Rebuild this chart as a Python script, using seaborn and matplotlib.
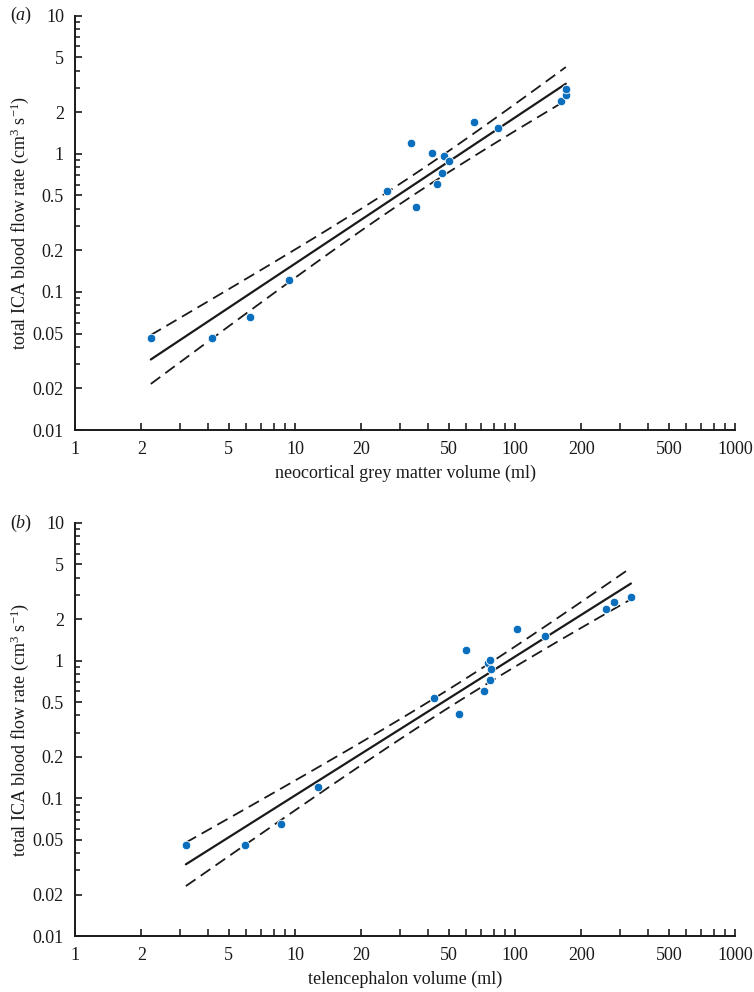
import numpy as np
import pandas as pd
import matplotlib
matplotlib.use('Agg')
import matplotlib.pyplot as plt
from matplotlib.ticker import LogLocator, FixedLocator, FixedFormatter, NullFormatter
import seaborn as sns

# panel (a): neocortical grey matter volume (ml) vs total ICA blood flow rate (cm3/s)
grey_volume = [2.21, 4.21, 6.26, 9.39, 26.1, 33.7, 35.5, 41.8, 44.1, 46.4, 47.4, 50.1,
               65.3, 83.4, 161.4, 170.0, 170.0]
grey_flow = [0.0467, 0.0467, 0.0659, 0.1228, 0.539, 1.20, 0.415, 1.02, 0.606, 0.732,
             0.962, 0.885, 1.70, 1.54, 2.41, 2.69, 2.96]

# panel (b): telencephalon volume (ml) vs total ICA blood flow rate
tel_volume = [3.19, 5.91, 8.61, 12.7, 42.7, 55.8, 59.9, 72.5, 75.4, 76.7, 77.6, 77.2,
              102.0, 137.4, 260.0, 282.0, 336.0]
tel_flow = [0.0456, 0.0456, 0.0648, 0.121, 0.533, 0.411, 1.19, 0.600, 0.956, 1.017,
            0.871, 0.725, 1.69, 1.52, 2.38, 2.68, 2.91]

x_labels = ['neocortical grey matter volume (ml)', 'telencephalon volume (ml)']
y_label = r'total ICA blood flow rate (cm$^3$ s$^{-1}$)'
panel_tags = ['a', 'b']
x_ticks = [1, 2, 5, 10, 20, 50, 100, 200, 500, 1000]
y_ticks = [0.01, 0.02, 0.05, 0.1, 0.2, 0.5, 1, 2, 5, 10]

T_CRIT = 2.131  # t(0.975, df=15)
dot_color = '#0b6fbd'


def fit_lines(x, y):
    # OLS on log10-log10 scale with 95% confidence band of the mean
    lx, ly = np.log10(x), np.log10(y)
    slope, icpt = np.polyfit(lx, ly, 1)
    n = len(lx)
    resid = ly - (icpt + slope * lx)
    s = np.sqrt(np.sum(resid ** 2) / (n - 2))
    sxx = np.sum((lx - lx.mean()) ** 2)
    grid = np.linspace(lx.min(), lx.max(), 100)
    pred = icpt + slope * grid
    half = T_CRIT * s * np.sqrt(1 / n + (grid - lx.mean()) ** 2 / sxx)
    return pd.DataFrame({'x': 10 ** grid, 'fit': 10 ** pred,
                         'lo': 10 ** (pred - half), 'hi': 10 ** (pred + half)})


sns.set_style('ticks')
plt.rcParams['font.family'] = ['Liberation Serif', 'DejaVu Serif']
plt.rcParams['mathtext.fontset'] = 'custom'
plt.rcParams['mathtext.rm'] = 'Liberation Serif'
plt.rcParams['mathtext.it'] = 'Liberation Serif:italic'

fig = plt.figure(figsize=(7.54, 9.92), dpi=100)
ax_a = fig.add_axes([0.0995, 0.5665, 0.8755, 0.4175])
ax_b = fig.add_axes([0.0995, 0.0564, 0.8755, 0.4164])

datasets = [(grey_volume, grey_flow), (tel_volume, tel_flow)]
for ax, (xv, yv), xl, tag in zip([ax_a, ax_b], datasets, x_labels, panel_tags):
    xv, yv = np.array(xv), np.array(yv)
    lines = fit_lines(xv, yv)
    sns.lineplot(data=lines, x='x', y='fit', ax=ax, color='#1a1a1a', lw=1.6)
    sns.lineplot(data=lines, x='x', y='hi', ax=ax, color='#1a1a1a', lw=1.3,
                 linestyle=(0, (6.5, 3.5)))
    sns.lineplot(data=lines, x='x', y='lo', ax=ax, color='#1a1a1a', lw=1.3,
                 linestyle=(0, (6.5, 3.5)))
    sns.scatterplot(x=xv, y=yv, ax=ax, color=dot_color, s=38, edgecolor='white',
                    linewidth=0.6, zorder=3)

    ax.set_xscale('log')
    ax.set_yscale('log')
    ax.set_xlim(1, 1000)
    ax.set_ylim(0.01, 10)
    ax.xaxis.set_major_locator(FixedLocator(x_ticks))
    ax.xaxis.set_major_formatter(FixedFormatter([str(t) for t in x_ticks]))
    ax.xaxis.set_minor_locator(LogLocator(base=10, subs=[3, 4, 6, 7, 8, 9]))
    ax.xaxis.set_minor_formatter(NullFormatter())
    ax.yaxis.set_major_locator(FixedLocator(y_ticks))
    ax.yaxis.set_major_formatter(FixedFormatter(['0.01', '0.02', '0.05', '0.1', '0.2',
                                                 '0.5', '1', '2', '5', '10']))
    ax.yaxis.set_minor_locator(LogLocator(base=10, subs=[3, 4, 6, 7, 8, 9]))
    ax.yaxis.set_minor_formatter(NullFormatter())
    ax.tick_params(which='major', direction='in', length=5, width=1.2,
                   labelsize=13, pad=8, colors='#1a1a1a')
    ax.tick_params(which='minor', direction='in', length=3.5, width=1.2)
    ax.tick_params(axis='x', which='minor', length=5)
    for sp in ['top', 'right']:
        ax.spines[sp].set_visible(False)
    for sp in ['left', 'bottom']:
        ax.spines[sp].set_linewidth(1.4)
        ax.spines[sp].set_color('#1a1a1a')
    ax.set_xlabel(xl, fontsize=13, labelpad=5, color='#1a1a1a')
    ax.set_ylabel(y_label, fontsize=13, labelpad=1, color='#1a1a1a')
    ax.text(-0.098, 1.0, r'($\mathit{' + tag + '}$)', transform=ax.transAxes,
            fontsize=13, ha='left', va='center', color='#1a1a1a')

fig.savefig('out.png', dpi=100)
